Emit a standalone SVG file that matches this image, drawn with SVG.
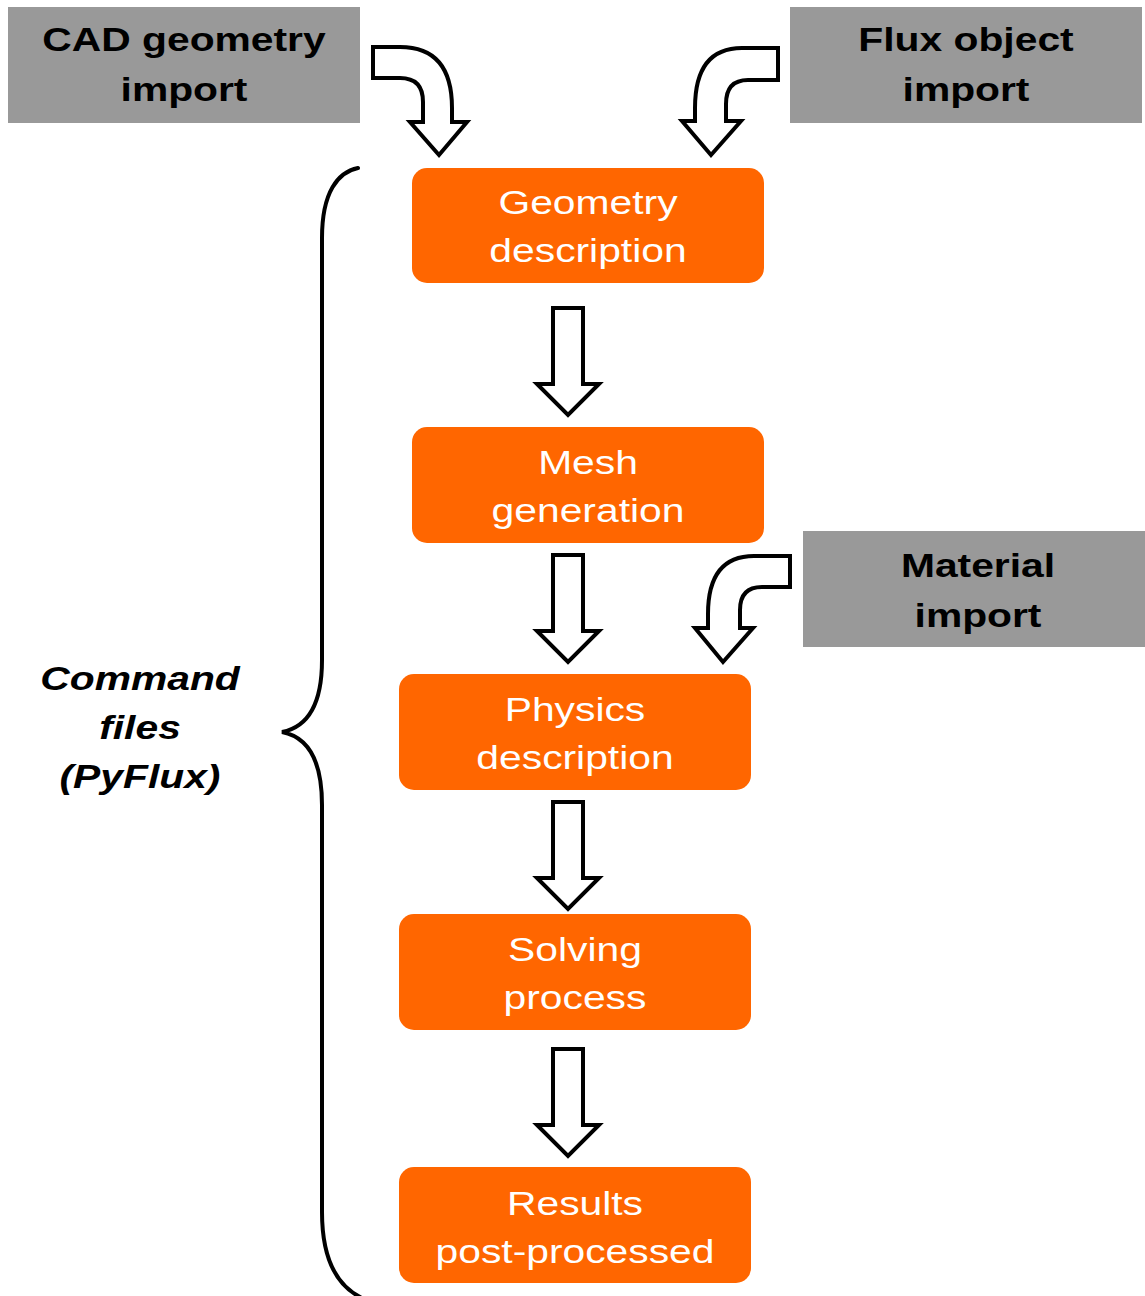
<svg xmlns="http://www.w3.org/2000/svg" xmlns:xlink="http://www.w3.org/1999/xlink" width="1145" height="1296" viewBox="0 0 1145 1296">
  <style>
    .src { fill: #999999; }
    .step { fill: #FF6600; }
    .src-label { font-family: "Liberation Sans", Arial, sans-serif; font-size: 34px; font-weight: bold; fill: #000; text-anchor: middle; }
    .step-label { font-family: "Liberation Sans", Arial, sans-serif; font-size: 34px; fill: #fff; text-anchor: middle; }
    .side-label { font-family: "Liberation Sans", Arial, sans-serif; font-size: 34px; font-weight: bold; font-style: italic; fill: #000; text-anchor: middle; }
    .block-arrow { fill: #fff; stroke: #000; stroke-width: 4; stroke-linejoin: miter; }
    .brace { fill: none; stroke: #000; stroke-width: 4; stroke-linecap: round; }
  </style>
  <defs>
    <!-- hollow down arrow, origin at top centre of the shaft -->
    <path id="down-arrow" d="M-15,0 H15 V76 H31 L0,107 L-31,76 H-15 Z"/>
  </defs>

  <rect width="1145" height="1296" fill="#fff"/>

  <!-- import sources -->
  <g id="cad-import">
    <rect class="src" x="8" y="7" width="352" height="116"/>
    <g transform="translate(184,0) scale(1.2,1)">
      <text class="src-label" x="0" y="51">CAD geometry</text>
      <text class="src-label" x="0" y="101">import</text>
    </g>
  </g>
  <g id="flux-import">
    <rect class="src" x="790" y="7" width="352" height="116"/>
    <g transform="translate(966,0) scale(1.2,1)">
      <text class="src-label" x="0" y="51">Flux object</text>
      <text class="src-label" x="0" y="101">import</text>
    </g>
  </g>
  <g id="material-import">
    <rect class="src" x="803" y="531" width="342" height="116"/>
    <g transform="translate(978,0) scale(1.2,1)">
      <text class="src-label" x="0" y="577">Material</text>
      <text class="src-label" x="0" y="627">import</text>
    </g>
  </g>

  <!-- processing steps -->
  <g id="geometry">
    <rect class="step" x="412" y="168" width="352" height="115" rx="15"/>
    <g transform="translate(588,0) scale(1.2,1)">
      <text class="step-label" x="0" y="214">Geometry</text>
      <text class="step-label" x="0" y="262">description</text>
    </g>
  </g>
  <g id="mesh">
    <rect class="step" x="412" y="427" width="352" height="116" rx="15"/>
    <g transform="translate(588,0) scale(1.2,1)">
      <text class="step-label" x="0" y="474">Mesh</text>
      <text class="step-label" x="0" y="522">generation</text>
    </g>
  </g>
  <g id="physics">
    <rect class="step" x="399" y="674" width="352" height="116" rx="15"/>
    <g transform="translate(575,0) scale(1.2,1)">
      <text class="step-label" x="0" y="721">Physics</text>
      <text class="step-label" x="0" y="769">description</text>
    </g>
  </g>
  <g id="solving">
    <rect class="step" x="399" y="914" width="352" height="116" rx="15"/>
    <g transform="translate(575,0) scale(1.2,1)">
      <text class="step-label" x="0" y="961">Solving</text>
      <text class="step-label" x="0" y="1009">process</text>
    </g>
  </g>
  <g id="results">
    <rect class="step" x="399" y="1167" width="352" height="116" rx="15"/>
    <g transform="translate(575,0) scale(1.2,1)">
      <text class="step-label" x="0" y="1215">Results</text>
      <text class="step-label" x="0" y="1263">post-processed</text>
    </g>
  </g>

  <!-- command files brace and label -->
  <g id="command-files">
    <path class="brace" d="M358,168 C338,172 322,192 322,238 L322,660 C322,705 308,727 282,732 C308,737 322,760 322,805 L322,1212 C322,1255 335,1284 360,1297"/>
    <g transform="translate(140,0) scale(1.2,1)">
      <text class="side-label" x="0" y="690">Command</text>
      <text class="side-label" x="0" y="739">files</text>
      <text class="side-label" x="0" y="788">(PyFlux)</text>
    </g>
  </g>

  <!-- connectors -->
  <g id="connectors">
    <path class="block-arrow" d="M373,47 L400,47 Q452,47 452,108 L452,122 L467,122 L439,155 L410,122 L423,122 L423,102 Q423,78 400,78 L373,78 Z"/>
    <path class="block-arrow" d="M778,48 L742,48 Q695,48 695,108 L695,121 L682,121 L711,155 L741,121 L726,121 L726,104 Q726,80 748,80 L778,80 Z"/>
    <path class="block-arrow" d="M790,556 L754,556 Q708,556 708,614 L708,628 L695,628 L723,662 L753,628 L740,628 L740,610 Q740,587 762,587 L790,587 Z"/>
    <use class="block-arrow" xlink:href="#down-arrow" transform="translate(568,308)"/>
    <use class="block-arrow" xlink:href="#down-arrow" transform="translate(568,555)"/>
    <use class="block-arrow" xlink:href="#down-arrow" transform="translate(568,802)"/>
    <use class="block-arrow" xlink:href="#down-arrow" transform="translate(568,1049)"/>
  </g>
</svg>
